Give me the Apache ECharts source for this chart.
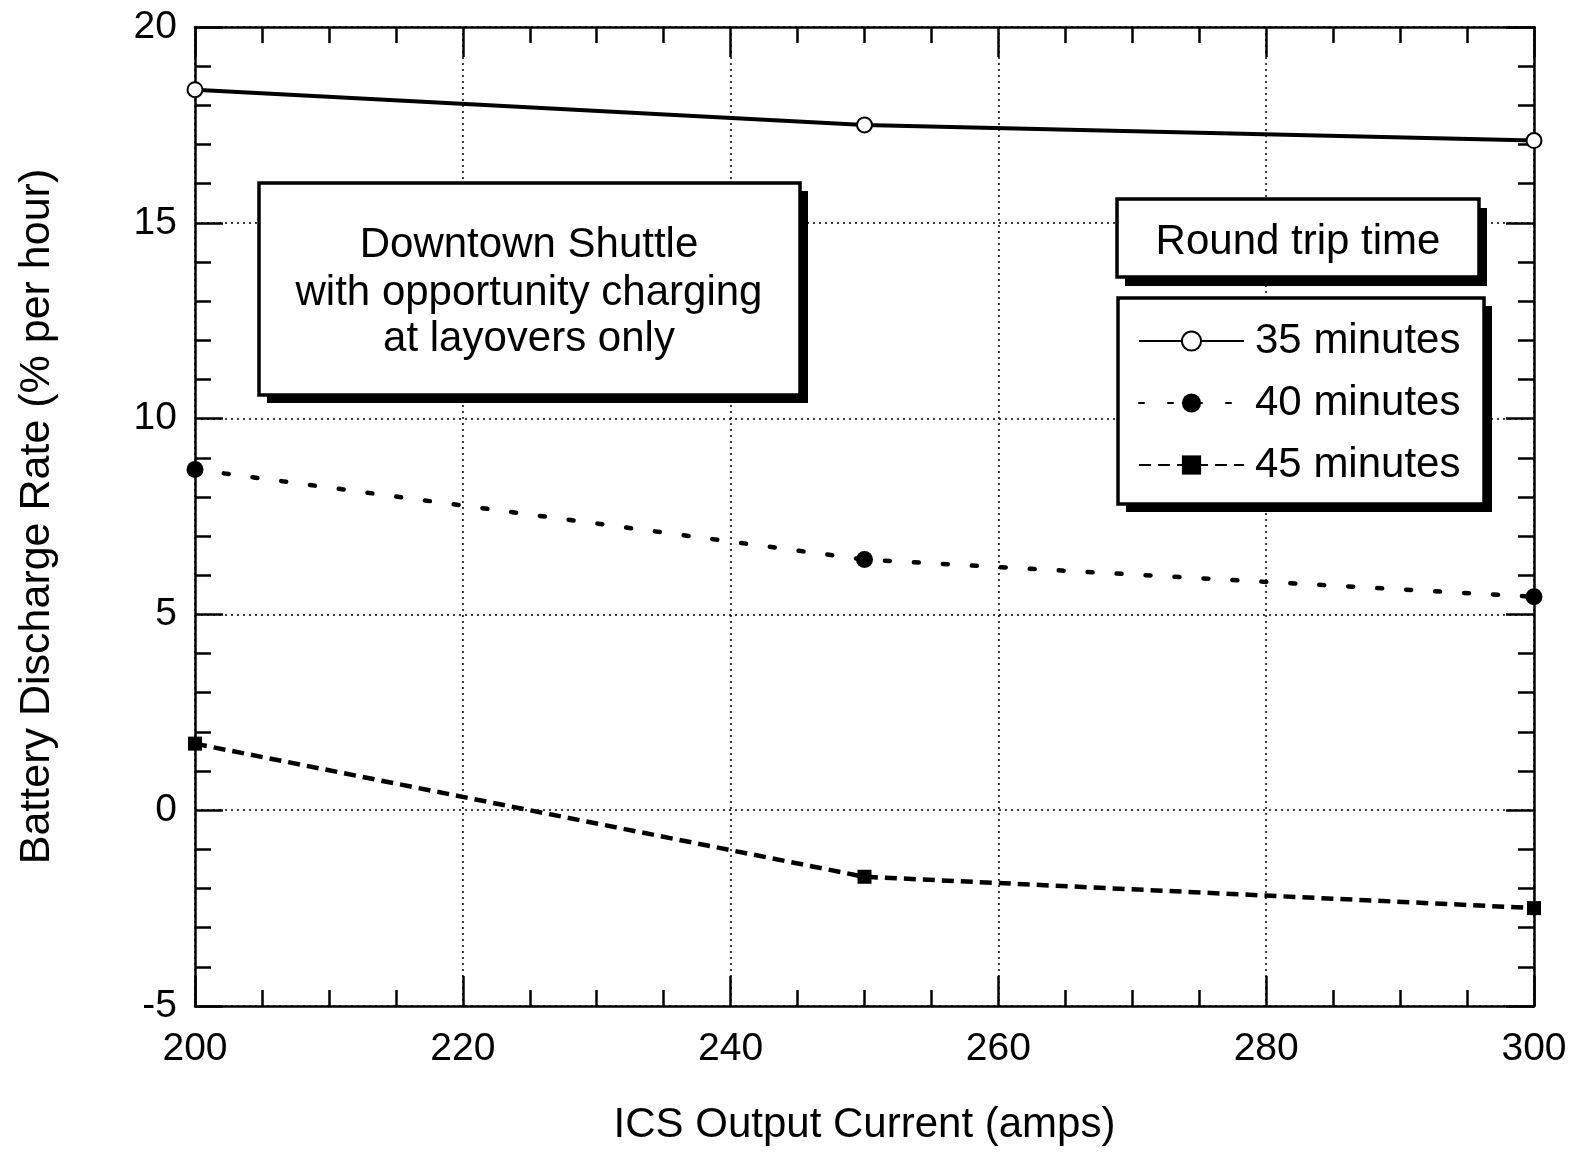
<!DOCTYPE html>
<html>
<head>
<meta charset="utf-8">
<script src="https://cdn.jsdelivr.net/npm/echarts@6/dist/echarts.min.js"></script>
<style>
html,body{margin:0;padding:0;background:#fff;}
#chart{width:1575px;height:1152px;}
</style>
</head>
<body>
<div id="chart"></div>
<script>
// ---- data ----
const currents = [200, 250, 300];                 // ICS output current (amps)
const rate35 = [18.4, 17.5, 17.1];               // 35 minutes round trip
const rate40 = [8.7, 6.4, 5.45];                 // 40 minutes round trip
const rate45 = [1.7, -1.7, -2.5];                // 45 minutes round trip
const seriesNames = ['35 minutes', '40 minutes', '45 minutes'];
const xTicks = [200, 220, 240, 260, 280, 300];
const yTicks = [-5, 0, 5, 10, 15, 20];
const noteLines = ['Downtown Shuttle', 'with opportunity charging', 'at layovers only'];
const legendTitle = 'Round trip time';
const xTitle = 'ICS Output Current (amps)';
const yTitle = 'Battery Discharge Rate (% per hour)';

const FONT = '"Liberation Sans", Arial, Helvetica, sans-serif';
const pairs = v => currents.map((c, i) => [c, v[i]]);

const chart = echarts.init(document.getElementById('chart'), null, {renderer: 'canvas'});

const axisLineStyle = {color: '#000', width: 2.5};
const gridStyle = {color: '#000', width: 1.5, type: [2, 4]};

function xAxisDef(pos, withLabels) {
  return {
    type: 'value', position: pos,
    min: xTicks[0], max: xTicks[xTicks.length - 1], interval: 20,
    axisLine: {show: true, onZero: false, lineStyle: axisLineStyle},
    axisTick: {show: true, inside: true, length: 30, lineStyle: {color: '#000', width: 2.5}},
    minorTick: {show: true, splitNumber: 4, length: 16, lineStyle: {color: '#000', width: 2.5}},
    splitLine: {show: withLabels, lineStyle: gridStyle},
    axisLabel: {show: withLabels, fontSize: 39, color: '#000', fontFamily: FONT, margin: 24},
    name: withLabels ? xTitle : '',
    nameLocation: 'middle', nameGap: 98,
    nameTextStyle: {fontSize: 42, color: '#000', fontFamily: FONT}
  };
}
function yAxisDef(pos, withLabels) {
  return {
    type: 'value', position: pos,
    min: yTicks[0], max: yTicks[yTicks.length - 1], interval: 5,
    axisLine: {show: true, onZero: false, lineStyle: axisLineStyle},
    axisTick: {show: true, inside: true, length: 28, lineStyle: {color: '#000', width: 2.5}},
    minorTick: {show: true, splitNumber: 5, length: 16, lineStyle: {color: '#000', width: 2.5}},
    splitLine: {show: withLabels, lineStyle: gridStyle},
    axisLabel: {show: withLabels, fontSize: 39, color: '#000', fontFamily: FONT, margin: 18},
    name: withLabels ? yTitle : '',
    nameLocation: 'middle', nameGap: 136, nameRotate: 90,
    nameTextStyle: {fontSize: 43, color: '#000', fontFamily: FONT}
  };
}

function shadowBox(x, y, w, h, dx, dy) {
  return [
    {type: 'rect', z: 5, shape: {x: x + dx, y: y + dy, width: w, height: h}, style: {fill: '#000'}},
    {type: 'rect', z: 6, shape: {x: x, y: y, width: w, height: h}, style: {fill: '#fff', stroke: '#000', lineWidth: 3.5}}
  ];
}
function boxText(x, y, t) {
  return {type: 'text', z: 7, x: x, y: y, style: {text: t, font: '42px ' + FONT, fill: '#000', align: 'center', verticalAlign: 'middle'}};
}

const option = {
  backgroundColor: '#fff',
  animation: false,
  grid: {left: 195, right: 41, top: 27, bottom: 146, containLabel: false},
  xAxis: [xAxisDef('bottom', true), xAxisDef('top', false)],
  yAxis: [yAxisDef('left', true), yAxisDef('right', false)],
  legend: {
    orient: 'vertical', left: 1133, top: 314, z: 10,
    data: seriesNames,
    itemWidth: 105, itemHeight: 24, itemGap: 18,
    textStyle: {fontSize: 42, color: '#000', fontFamily: FONT, lineHeight: 44, padding: [0, 0, 0, 6]}
  },
  graphic: [].concat(
    shadowBox(259, 183, 541, 212, 8, 8),
    [boxText(529, 245, noteLines[0]), boxText(529, 293, noteLines[1]), boxText(529, 339, noteLines[2])],
    shadowBox(1117, 199, 362, 78, 8, 9),
    [boxText(1298, 242, legendTitle)],
    shadowBox(1118, 298, 366, 206, 8, 8)
  ),
  series: [
    {name: seriesNames[0], type: 'line', data: pairs(rate35), clip: false,
     symbol: 'circle', symbolSize: 15, showAllSymbol: true,
     lineStyle: {color: '#000', width: 4, type: 'solid'},
     itemStyle: {color: '#fff', borderColor: '#000', borderWidth: 2}},
    {name: seriesNames[1], type: 'line', data: pairs(rate40), clip: false,
     symbol: 'circle', symbolSize: 17,
     lineStyle: {color: '#000', width: 4.5, type: [5, 24], cap: 'round'},
     itemStyle: {color: '#000', borderColor: '#000', borderWidth: 0}},
    {name: seriesNames[2], type: 'line', data: pairs(rate45), clip: false,
     symbol: 'rect', symbolSize: 14,
     lineStyle: {color: '#000', width: 4.5, type: [12, 7]},
     itemStyle: {color: '#000', borderColor: '#000', borderWidth: 0}}
  ]
};
chart.setOption(option);
</script>
</body>
</html>
